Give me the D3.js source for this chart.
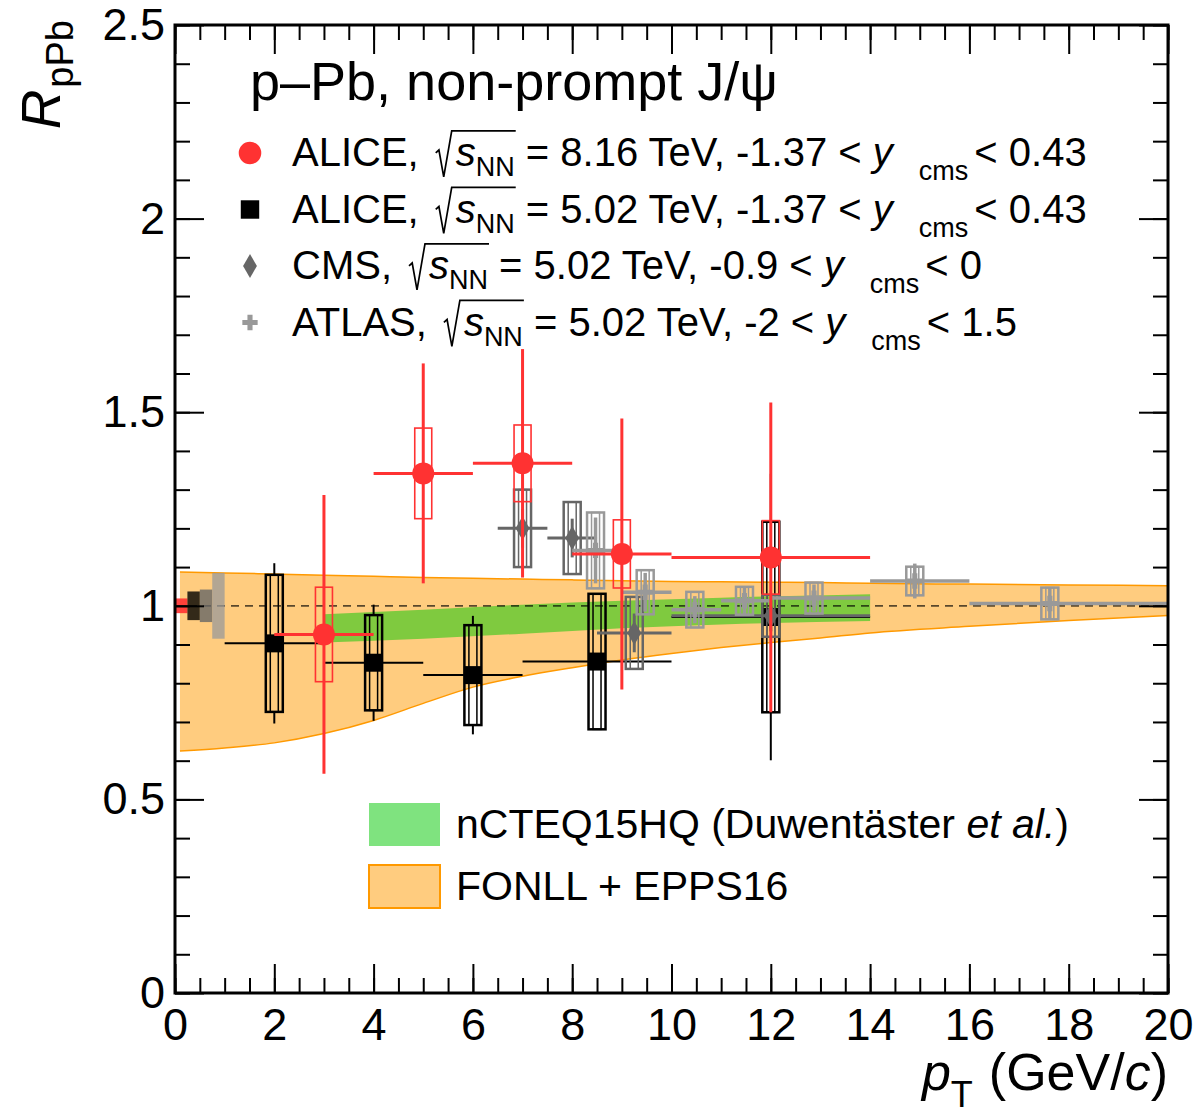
<!DOCTYPE html>
<html>
<head>
<meta charset="utf-8">
<script src="https://cdn.jsdelivr.net/npm/d3@7"></script>
<style>
  html, body { margin: 0; padding: 0; background: #fff; }
  svg text { font-family: "Liberation Sans", Arial, Helvetica, sans-serif; white-space: pre; fill: #000; }
</style>
</head>
<body>
<div id="graphic"></div>
<script>
// ALICE, 8.16 TeV (red circles)
var alice816Pt   = [3, 5, 7, 9, 12];
var alice816Lo   = [2, 4, 6, 8, 10];
var alice816Hi   = [4, 6, 8, 10, 14];
var alice816Val  = [0.926, 1.342, 1.368, 1.134, 1.125];
var alice816Stat = [0.36, 0.284, 0.295, 0.35, 0.40];
var alice816Sys  = [0.122, 0.117, 0.099, 0.088, 0.095];

// ALICE, 5.02 TeV (black squares)
var alice502Pt   = [2, 4, 6, 8.5, 12];
var alice502Lo   = [1, 3, 5, 7, 10];
var alice502Hi   = [3, 5, 7, 10, 14];
var alice502Val  = [0.903, 0.853, 0.821, 0.856, 0.971];
var alice502Stat = [0.207, 0.15, 0.153, 0.16, 0.37];
var alice502Sys  = [0.177, 0.123, 0.129, 0.175, 0.246];

// CMS, 5.02 TeV (diamonds)
var cmsPt   = [7, 8, 9.25, 12];
var cmsLo   = [6.5, 7.5, 8.5, 10];
var cmsHi   = [7.5, 8.5, 10, 14];
var cmsVal  = [1.20, 1.175, 0.93, 0.974];
var cmsStat = [0.05, 0.05, 0.05, 0.04];
var cmsSys  = [0.10, 0.093, 0.093, 0.054];

// ATLAS, 5.02 TeV (crosses)
var atlasPt   = [8.47, 9.47, 10.47, 11.47, 12.87, 14.9, 17.62];
var atlasLo   = [8, 9, 10, 11, 12, 14, 16];
var atlasHi   = [9, 10, 11, 12, 14, 16, 20];
var atlasVal  = [1.143, 1.035, 0.99, 1.013, 1.02, 1.064, 1.006];
var atlasStat = [0.085, 0.05, 0.035, 0.035, 0.035, 0.045, 0.04];
var atlasSys  = [0.098, 0.057, 0.046, 0.036, 0.04, 0.037, 0.041];

// Global (normalisation) uncertainties at RpPb = 1
var globalUnc = [0.019, 0.037, 0.042, 0.085];

// FONLL + EPPS16 band
var fonllPt = [0.1, 1, 2, 3, 4, 5, 6, 7, 8, 9, 10, 11, 12, 13, 14, 16, 18, 20];
var fonllHi = [1.087, 1.085, 1.082, 1.079, 1.076, 1.073, 1.071, 1.069, 1.067, 1.065, 1.063, 1.062, 1.061, 1.060, 1.058, 1.056, 1.054, 1.052];
var fonllLo = [0.625, 0.633, 0.646, 0.670, 0.704, 0.748, 0.790, 0.818, 0.840, 0.86, 0.877, 0.892, 0.905, 0.917, 0.930, 0.947, 0.962, 0.975];

// nCTEQ15HQ band
var ncteqPt = [3, 5, 7, 9, 11, 14];
var ncteqHi = [0.978, 0.99, 1.003, 1.013, 1.021, 1.03];
var ncteqLo = [0.905, 0.915, 0.928, 0.942, 0.952, 0.961];

// Ticks and legend text
var xTicks = [0, 2, 4, 6, 8, 10, 12, 14, 16, 18, 20];
var yTicks = [0, 0.5, 1, 1.5, 2, 2.5];
var yTickLabels = ["0", "0.5", "1", "1.5", "2", "2.5"];
var legendName   = ["ALICE", "ALICE", "CMS", "ATLAS"];
var legendEnergy = ["8.16", "5.02", "5.02", "5.02"];
var legendYmin   = ["-1.37", "-1.37", "-0.9", "-2"];
var legendYmax   = ["0.43", "0.43", "0", "1.5"];
var bandLabels   = ["nCTEQ15HQ (Duwentäster ", "FONLL + EPPS16"];

(function() {
  // Dimensions
  var
  width  = 1200,
  height = 1115,
  margin = { top: 25, right: 32, bottom: 122, left: 175 },
  w      = width - margin.left - margin.right,
  h      = height - margin.top - margin.bottom
  ;

  var RED = "#ff3232", GREEN = "#00c800", ORANGE = "#ff9900";

  var svg = d3.select("#graphic").append("svg")
      .attr("width", width)
      .attr("height", height);

  var plot = svg.append("g")
      .attr("transform", "translate(" + margin.left + "," + margin.top + ")");

  var x = d3.scaleLinear().domain([0, 20]).range([0, w]);
  var y = d3.scaleLinear().domain([0, 2.5]).range([h, 0]);

  // Theory bands
  var fonll = fonllPt.map(function(d, i) { return { pt: d, lo: fonllLo[i], hi: fonllHi[i] }; });
  var ncteq = ncteqPt.map(function(d, i) { return { pt: d, lo: ncteqLo[i], hi: ncteqHi[i] }; });

  var area = d3.area()
    .curve(d3.curveMonotoneX)
    .x(function(d) { return x(d.pt); })
    .y0(function(d) { return y(d.lo); })
    .y1(function(d) { return y(d.hi); });

  plot.append("path").datum(fonll)
    .attr("d", area)
    .attr("fill", ORANGE)
    .attr("fill-opacity", 0.5);

  ["lo", "hi"].forEach(function(k) {
    plot.append("path").datum(fonll)
      .attr("d", d3.line().curve(d3.curveMonotoneX)
        .x(function(d) { return x(d.pt); })
        .y(function(d) { return y(d[k]); }))
      .attr("fill", "none")
      .attr("stroke", ORANGE)
      .attr("stroke-width", 1.5);
  });

  plot.append("path").datum(ncteq)
    .attr("d", area)
    .attr("fill", GREEN)
    .attr("fill-opacity", 0.5);

  // Dashed line at unity
  plot.append("line")
    .attr("x1", x(0)).attr("x2", x(20))
    .attr("y1", y(1)).attr("y2", y(1))
    .attr("stroke", "#000")
    .attr("stroke-opacity", 0.65)
    .attr("stroke-width", 1.8)
    .attr("stroke-dasharray", "8,6");

  // Global uncertainty boxes
  var globalFill = [RED, "#000", "#666", "#999"];
  var globalOpacity = [0.9, 0.8, 0.8, 0.75];
  plot.selectAll("rect.global")
      .data(globalUnc)
    .enter().append("rect")
      .attr("class", "global")
      .attr("x", function(d, i) { return x(i * 0.25); })
      .attr("width", x(0.25) - x(0))
      .attr("y", function(d) { return y(1 + d); })
      .attr("height", function(d) { return y(1 - d) - y(1 + d); })
      .attr("fill", function(d, i) { return globalFill[i]; })
      .attr("fill-opacity", function(d, i) { return globalOpacity[i]; });

  // Data series, in drawing order
  var series = [
    { pt: alice502Pt, lo: alice502Lo, hi: alice502Hi, val: alice502Val, stat: alice502Stat, sys: alice502Sys,
      color: "#000", lw: 2, inner: true, split: true, symbol: d3.symbolSquare, size: 324 },
    { pt: cmsPt, lo: cmsLo, hi: cmsHi, val: cmsVal, stat: cmsStat, sys: cmsSys,
      color: "#666", lw: 3, inner: true, symbol: d3.symbolDiamond, size: 166 },
    { pt: atlasPt, lo: atlasLo, hi: atlasHi, val: atlasVal, stat: atlasStat, sys: atlasSys,
      color: "#999", lw: 3.5, inner: true, symbol: d3.symbolCross, size: 130 },
    { pt: alice816Pt, lo: alice816Lo, hi: alice816Hi, val: alice816Val, stat: alice816Stat, sys: alice816Sys,
      color: RED, lw: 3, inner: false, symbol: d3.symbolCircle, size: 380 }
  ];

  series.forEach(drawSeries);

  function drawSeries(s) {
    var rows = s.pt.map(function(d, i) {
      return { pt: d, lo: s.lo[i], hi: s.hi[i], v: s.val[i], stat: s.stat[i], sys: s.sys[i] };
    });
    var g = plot.append("g");

    // systematic boxes
    g.selectAll("rect.sys")
        .data(rows)
      .enter().append("rect")
        .attr("class", "sys")
        .attr("x", function(d) { return x(d.pt) - 8.5; })
        .attr("width", 17)
        .attr("y", function(d) { return y(d.v + d.sys); })
        .attr("height", function(d) { return y(d.v - d.sys) - y(d.v + d.sys); })
        .attr("fill", "none")
        .attr("stroke", s.color)
        .attr("stroke-width", s.inner ? 2.5 : 1.6);

    if (s.inner) {
      g.selectAll("rect.sysin")
          .data(rows)
        .enter().append("rect")
          .attr("class", "sysin")
          .attr("x", function(d) { return x(d.pt) - 4; })
          .attr("width", 8)
          .attr("y", function(d) { return y(d.v + d.sys); })
          .attr("height", function(d) { return y(d.v - d.sys) - y(d.v + d.sys); })
          .attr("fill", "none")
          .attr("stroke", s.color)
          .attr("stroke-width", 1.5);
    }

    // horizontal bin bars
    g.selectAll("line.bin")
        .data(rows)
      .enter().append("line")
        .attr("x1", function(d) { return x(d.lo); })
        .attr("x2", function(d) { return x(d.hi); })
        .attr("y1", function(d) { return y(d.v); })
        .attr("y2", function(d) { return y(d.v); })
        .attr("stroke", s.color)
        .attr("stroke-width", s.lw);

    // statistical bars (kept outside the box when split)
    var segs = [];
    rows.forEach(function(d) {
      if (s.split) {
        if (d.stat > d.sys) {
          segs.push({ pt: d.pt, a: d.v + d.stat, b: d.v + d.sys });
          segs.push({ pt: d.pt, a: d.v - d.sys, b: d.v - d.stat });
        }
      } else {
        segs.push({ pt: d.pt, a: d.v + d.stat, b: d.v - d.stat });
      }
    });
    g.selectAll("line.stat")
        .data(segs)
      .enter().append("line")
        .attr("x1", function(d) { return x(d.pt); })
        .attr("x2", function(d) { return x(d.pt); })
        .attr("y1", function(d) { return y(d.a); })
        .attr("y2", function(d) { return y(d.b); })
        .attr("stroke", s.color)
        .attr("stroke-width", s.lw);

    // markers
    g.selectAll("path.marker")
        .data(rows)
      .enter().append("path")
        .attr("d", d3.symbol().type(s.symbol).size(s.size))
        .attr("transform", function(d) { return "translate(" + x(d.pt) + "," + y(d.v) + ")"; })
        .attr("fill", s.color);
  }

  // Axes: inward ticks on all four sides
  var xMinor = d3.range(0, 20.01, 0.5);
  var yMinor = d3.range(0, 2.501, 0.1);

  function axisGroup(axis, tx, ty, labels) {
    var a = plot.append("g")
      .attr("transform", "translate(" + tx + "," + ty + ")")
      .call(axis);
    a.select(".domain").remove();
    a.selectAll("line").attr("stroke", "#000").attr("stroke-width", 2);
    a.selectAll("text")
      .attr("font-size", 45)
      .attr("font-family", "'Liberation Sans', Arial, sans-serif")
      .attr("fill", "#000");
    if (!labels) a.selectAll("text").remove();
    return a;
  }

  axisGroup(d3.axisBottom(x).tickValues(xMinor).tickSize(-15).tickFormat(""), 0, h, false);
  axisGroup(d3.axisTop(x).tickValues(xMinor).tickSize(-15).tickFormat(""), 0, 0, false);
  axisGroup(d3.axisLeft(y).tickValues(yMinor).tickSize(-15).tickFormat(""), 0, 0, false);
  axisGroup(d3.axisRight(y).tickValues(yMinor).tickSize(-15).tickFormat(""), w, 0, false);

  axisGroup(d3.axisBottom(x).tickValues(xTicks).tickSize(-29).tickPadding(15)
    .tickFormat(function(d) { return d; }), 0, h, true);
  axisGroup(d3.axisTop(x).tickValues(xTicks).tickSize(-29).tickFormat(""), 0, 0, false);
  axisGroup(d3.axisLeft(y).tickValues(yTicks).tickSize(-29).tickPadding(10)
    .tickFormat(function(d, i) { return yTickLabels[i]; }), 0, 0, true);
  axisGroup(d3.axisRight(y).tickValues(yTicks).tickSize(-29).tickFormat(""), w, 0, false);

  // Frame
  plot.append("rect")
    .attr("width", w)
    .attr("height", h)
    .attr("fill", "none")
    .attr("stroke", "#000")
    .attr("stroke-width", 3);

  /*
    Rich text: a list of parts laid out left to right on a baseline.
    A part with .radical draws a square root sign over its sub-parts.
  */
  function rich(parent, parts, size) {
    var g = parent.append("g");
    var cx = 0;
    function place(list) {
      list.forEach(function(p) {
        if (p.radical) {
          var x0 = cx + (p.pre || 0);
          var corner = x0 + size * 0.4;
          cx = corner + size * 0.1;
          place(p.radical);
          g.append("path")
            .attr("d", "M" + x0 + "," + (-0.33 * size) +
              "L" + (x0 + 0.08 * size) + "," + (-0.40 * size) +
              "L" + (x0 + 0.2 * size) + "," + (0.27 * size) +
              "L" + corner + "," + (-0.88 * size) +
              "L" + (cx + 1) + "," + (-0.88 * size))
            .attr("fill", "none")
            .attr("stroke", "#000")
            .attr("stroke-width", 1.7)
            .attr("stroke-linejoin", "miter");
          return;
        }
        var t = g.append("text")
          .attr("x", cx)
          .attr("y", p.dy || 0)
          .attr("font-size", p.size || size)
          .attr("font-style", p.italic ? "italic" : null)
          .text(p.text);
        cx += t.node().getComputedTextLength() + (p.gap || 0);
      });
    }
    place(parts);
    return { g: g, width: cx };
  }

  // Title
  var title = rich(svg, [{ text: "p\u2013Pb, non-prompt J/\u03c8" }], 54);
  title.g.attr("transform", "translate(250,100)");

  // Legend entries
  var legendSymbol = [d3.symbolCircle, d3.symbolSquare, d3.symbolDiamond, d3.symbolCross];
  var legendColor  = [RED, "#000", "#666", "#999"];
  var legendSize   = [400, 340, 166, 130];

  legendName.forEach(function(name, i) {
    var base = 166 + i * 56.5;
    svg.append("path")
      .attr("d", d3.symbol().type(legendSymbol[i]).size(legendSize[i]))
      .attr("transform", "translate(250," + (base - 13) + ")")
      .attr("fill", legendColor[i]);

    var r = rich(svg, [
      { text: name + ",", gap: 0 },
      { radical: [{ text: "s", italic: true }, { text: "NN", size: 27, dy: 10 }], pre: 17 },
      { text: " = " + legendEnergy[i] + " TeV, " + legendYmin[i] + " < " },
      { text: "y", italic: true, gap: 26 },
      { text: "cms", size: 27, dy: 14, gap: 6 },
      { text: "< " + legendYmax[i] }
    ], 40);
    r.g.attr("transform", "translate(292," + base + ")");
  });

  // Band legend
  var bandFill = [GREEN, ORANGE];
  bandLabels.forEach(function(label, i) {
    var top = 803 + i * 62;
    svg.append("rect")
      .attr("x", 369).attr("y", top)
      .attr("width", 71).attr("height", 43)
      .attr("fill", bandFill[i])
      .attr("fill-opacity", 0.5)
      .attr("stroke", i === 1 ? ORANGE : "none")
      .attr("stroke-width", 2);
    var parts = [{ text: label }];
    if (i === 0) {
      parts.push({ text: "et al.", italic: true });
      parts.push({ text: ")" });
    }
    var r = rich(svg, parts, 41);
    r.g.attr("transform", "translate(456," + (top + 35) + ")");
  });

  // X axis title, right aligned to the frame
  var xt = rich(svg, [
    { text: "p", italic: true },
    { text: "T", size: 36, dy: 17, gap: 16 },
    { text: "(GeV/" },
    { text: "c", italic: true },
    { text: ")" }
  ], 52);
  xt.g.attr("transform", "translate(" + (margin.left + w - xt.width) + ",1090)");

  // Y axis title, rotated
  var yt = rich(svg, [
    { text: "R", italic: true, gap: 2 },
    { text: "pPb", size: 38, dy: 13 }
  ], 55);
  yt.g.attr("transform", "translate(60," + (20 + yt.width) + ") rotate(-90)");
})();
</script>
</body>
</html>
